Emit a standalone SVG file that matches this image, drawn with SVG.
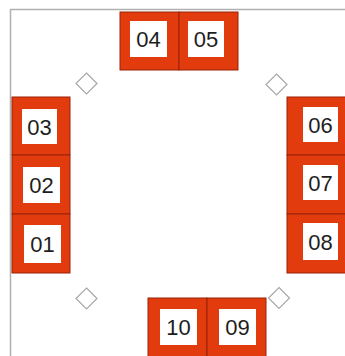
<svg xmlns="http://www.w3.org/2000/svg" width="345" height="356" viewBox="0 0 345 356">
<style>
.blk{fill:#e23b0e;stroke:#9a2208;stroke-width:1}
.win{fill:#ffffff}
.lbl{font-family:"Liberation Sans",Arial,sans-serif;font-size:22px;fill:#1e1e1e;text-anchor:middle}
.dia{fill:#ffffff;stroke:#a8a8a8;stroke-width:1.2}
.frame{fill:none;stroke:#b0b0b0;stroke-width:1.5}
</style>
<rect width="345" height="356" fill="#ffffff"/>
<path class="frame" d="M10.5 357 V9.5 H346"/>
<g id="connectors"></g>
<g id="n04"><rect class="blk" x="120" y="12" width="59" height="58"/><rect class="win" x="130" y="21" width="37" height="36"/><text class="lbl" x="148.5" y="47">04</text></g>
<g id="n05"><rect class="blk" x="179" y="12" width="59" height="58"/><rect class="win" x="188" y="21" width="36" height="36"/><text class="lbl" x="206" y="47">05</text></g>
<g id="n03"><rect class="blk" x="12" y="97" width="58" height="58"/><rect class="win" x="22" y="109" width="35" height="35"/><text class="lbl" x="39.5" y="134.5">03</text></g>
<g id="n02"><rect class="blk" x="12" y="155" width="58" height="59"/><rect class="win" x="23" y="167" width="37" height="36"/><text class="lbl" x="41.5" y="193">02</text></g>
<g id="n01"><rect class="blk" x="12" y="214" width="58" height="59"/><rect class="win" x="24" y="225" width="37" height="38"/><text class="lbl" x="42.5" y="252">01</text></g>
<g id="n06"><rect class="blk" x="287" y="97" width="59" height="58"/><rect class="win" x="303" y="107" width="35" height="35"/><text class="lbl" x="320.5" y="132.5">06</text></g>
<g id="n07"><rect class="blk" x="287" y="155" width="59" height="59"/><rect class="win" x="303" y="165" width="35" height="35"/><text class="lbl" x="320.5" y="190.5">07</text></g>
<g id="n08"><rect class="blk" x="287" y="214" width="59" height="59"/><rect class="win" x="303" y="223" width="35" height="37"/><text class="lbl" x="320.5" y="249.5">08</text></g>
<g id="n10"><rect class="blk" x="148" y="298" width="59" height="59"/><rect class="win" x="160" y="309" width="37" height="36"/><text class="lbl" x="178.5" y="335">10</text></g>
<g id="n09"><rect class="blk" x="207" y="298" width="59" height="59"/><rect class="win" x="219" y="309" width="37" height="36"/><text class="lbl" x="237.5" y="335">09</text></g>
<g id="d1"><polygon class="dia" points="86.5,73 97,83.5 86.5,94 76,83.5"/></g>
<g id="d2"><polygon class="dia" points="276.5,74 287,84.5 276.5,95 266,84.5"/></g>
<g id="d3"><polygon class="dia" points="86.5,288 97,298.5 86.5,309 76,298.5"/></g>
<g id="d4"><polygon class="dia" points="279,287.5 289.5,298 279,308.5 268.5,298"/></g>
</svg>
